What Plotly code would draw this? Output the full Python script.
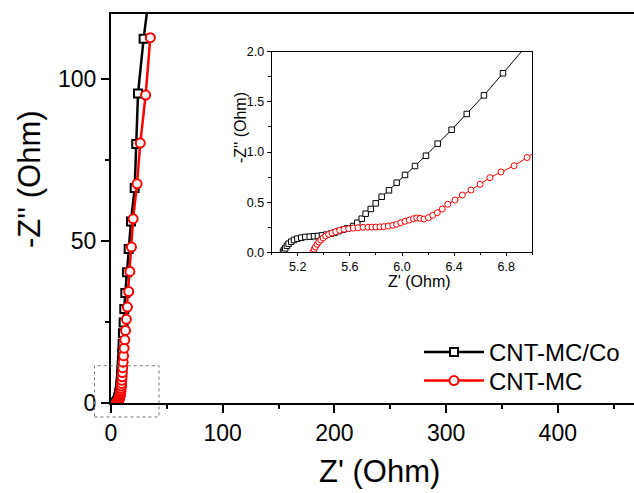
import plotly.graph_objects as go

# ---------------- data ----------------
series_names = ["CNT-MC/Co", "CNT-MC"]

co_x = [5.087, 5.094, 5.104, 5.117, 5.130, 5.150, 5.171, 5.197, 5.227, 5.258, 5.292, 5.325,
        5.355, 5.386, 5.419, 5.453, 5.483, 5.514, 5.547, 5.580, 5.626, 5.657, 5.691, 5.721,
        5.760, 5.798, 5.844, 5.900, 5.959, 6.023, 6.100, 6.184, 6.274, 6.381, 6.497, 6.629,
        6.775, 6.94, 7.12, 7.31, 7.50, 7.70, 7.90, 8.10, 8.30, 8.50, 8.70, 8.90, 9.10, 9.30,
        9.55, 9.80, 10.05, 10.35, 10.7, 11.3, 11.9, 12.8, 14.3, 15.8, 17.9, 21.2, 22.6, 24.2,
        29.2, 36.0]
co_y = [0.006, 0.023, 0.040, 0.066, 0.086, 0.106, 0.123, 0.136, 0.146, 0.153, 0.156, 0.160,
        0.163, 0.169, 0.176, 0.186, 0.196, 0.212, 0.225, 0.238, 0.262, 0.295, 0.335, 0.385,
        0.432, 0.488, 0.554, 0.618, 0.694, 0.771, 0.860, 0.963, 1.083, 1.222, 1.379, 1.565,
        1.785, 2.03, 2.31, 2.63, 3.00, 3.42, 3.90, 4.45, 5.08, 5.80, 6.65, 7.60, 8.70, 10.0,
        11.5, 13.3, 15.5, 18.2, 21.5, 24.8, 29.0, 33.9, 40.3, 47.5, 56.0, 66.3, 79.9, 95.5,
        112.4, 131.0]

mc_x = [5.317, 5.325, 5.335, 5.348, 5.361, 5.376, 5.394, 5.414, 5.437, 5.463, 5.491, 5.522,
        5.555, 5.591, 5.626, 5.662, 5.701, 5.739, 5.770, 5.800, 5.831, 5.862, 5.895, 5.929,
        5.959, 5.990, 6.023, 6.056, 6.087, 6.113, 6.138, 6.169, 6.202, 6.236, 6.271, 6.309,
        6.351, 6.407, 6.463, 6.530, 6.599, 6.675, 6.760, 6.860, 6.960, 7.07, 7.19, 7.33, 7.47,
        7.62, 7.78, 7.95, 8.12, 8.30, 8.50, 8.70, 8.90, 9.10, 9.30, 9.50, 9.70, 9.95, 10.2,
        10.5, 10.85, 11.25, 11.75, 12.35, 13.0, 13.8, 14.7, 15.8, 16.9, 18.3, 19.8, 23.3,
        26.2, 31.0, 35.2]
mc_y = [0.006, 0.030, 0.053, 0.080, 0.103, 0.123, 0.143, 0.163, 0.179, 0.192, 0.205, 0.219,
        0.229, 0.235, 0.242, 0.245, 0.249, 0.250, 0.251, 0.252, 0.254, 0.256, 0.262, 0.269,
        0.279, 0.295, 0.309, 0.322, 0.335, 0.342, 0.339, 0.332, 0.345, 0.369, 0.395, 0.432,
        0.479, 0.521, 0.571, 0.621, 0.678, 0.744, 0.801, 0.863, 0.945, 1.04, 1.15, 1.28, 1.43,
        1.60, 1.80, 2.03, 2.30, 2.62, 3.00, 3.44, 3.95, 4.55, 5.25, 6.05, 7.00, 8.10, 9.40,
        10.9, 12.6, 14.6, 16.9, 19.5, 22.4, 25.8, 29.6, 34.4, 40.6, 48.1, 56.8, 67.6,
        80.2, 95.0, 112.7]

main_x_ticks = [0, 100, 200, 300, 400]
main_y_ticks = [0, 50, 100]
inset_x_ticks = [5.2, 5.6, 6.0, 6.4, 6.8]
inset_y_ticks = [0.0, 0.5, 1.0, 1.5, 2.0]

# ---------------- figure ----------------
FONT = "Liberation Sans, Arial, sans-serif"
W, H = 634, 493
ML, MR, MT, MB = 111, 0, 14, 90
PW, PH = W - ML - MR, H - MT - MB

def px_to_paper_x(px):
    return (px - ML) / PW

def px_to_paper_y(py):
    return (H - MB - py) / PH

fig = go.Figure()

# main traces
fig.add_trace(go.Scatter(
    x=co_x, y=co_y, name=series_names[0], mode="lines+markers", legend="legend",
    line=dict(color="black", width=2.5),
    marker=dict(symbol="square", size=8, color="white", line=dict(color="black", width=2)),
    xaxis="x", yaxis="y"))
fig.add_trace(go.Scatter(
    x=mc_x, y=mc_y, name=series_names[1], mode="lines+markers", legend="legend2",
    line=dict(color="red", width=2.5),
    marker=dict(symbol="circle", size=9, color="white", line=dict(color="red", width=2)),
    xaxis="x", yaxis="y"))

# inset traces (same data, zoomed axes)
fig.add_trace(go.Scatter(
    x=co_x, y=co_y, name=series_names[0], mode="lines+markers", showlegend=False,
    line=dict(color="black", width=1),
    marker=dict(symbol="square", size=5.5, color="white", line=dict(color="black", width=1)),
    xaxis="x2", yaxis="y2"))
fig.add_trace(go.Scatter(
    x=mc_x, y=mc_y, name=series_names[1], mode="lines+markers", showlegend=False,
    line=dict(color="red", width=1),
    marker=dict(symbol="circle", size=6, color="white", line=dict(color="red", width=1)),
    xaxis="x2", yaxis="y2"))

main_axis_common = dict(
    showgrid=False, zeroline=False, showline=True, linecolor="black", linewidth=2,
    ticks="outside", ticklen=8, tickwidth=1.5, tickcolor="black",
    tickfont=dict(family=FONT, size=23, color="black"),
)
inset_axis_common = dict(
    showgrid=False, zeroline=False, showline=True, linecolor="black", linewidth=1,
    mirror=True, ticks="outside", tickwidth=1, tickcolor="black",
    tickfont=dict(family=FONT, size=12.5, color="black"), tickformat=".1f",
)

ix0, ix1 = px_to_paper_x(271.7), px_to_paper_x(532.3)
iy0, iy1 = px_to_paper_y(252.3), px_to_paper_y(51.7)

legend_common = dict(xanchor="left", yanchor="top",
                     font=dict(family=FONT, size=24, color="black"),
                     bgcolor="rgba(0,0,0,0)", itemwidth=60)

fig.update_layout(
    width=W, height=H,
    margin=dict(l=ML, r=MR, t=MT, b=MB),
    paper_bgcolor="white", plot_bgcolor="white",
    font=dict(family=FONT, color="black"),
    xaxis=dict(range=[0, PW / 1.117], tickvals=main_x_ticks, mirror=True,
               minor=dict(dtick=50, ticks="outside", ticklen=4, tickwidth=1.5, tickcolor="black"),
               **main_axis_common),
    yaxis=dict(range=[0, 120], tickvals=main_y_ticks,
               minor=dict(dtick=25, ticks="outside", ticklen=4, tickwidth=1.5, tickcolor="black"),
               **main_axis_common),
    xaxis2=dict(domain=[ix0, ix1], anchor="y2", range=[5.0, 7.0], tickvals=inset_x_ticks, ticklen=3,
                minor=dict(dtick=0.2, tick0=5.0, ticks="outside", ticklen=2, tickwidth=1, tickcolor="black"),
                **inset_axis_common),
    yaxis2=dict(domain=[iy0, iy1], anchor="x2", range=[0, 2.0], tickvals=inset_y_ticks, ticklen=4,
                minor=dict(dtick=0.25, ticks="outside", ticklen=2.5, tickwidth=1, tickcolor="black"),
                **inset_axis_common),
    legend=dict(x=px_to_paper_x(419), y=px_to_paper_y(330), **legend_common),
    legend2=dict(x=px_to_paper_x(419), y=px_to_paper_y(358.5), **legend_common),
    showlegend=True,
)

# axis titles as annotations
def title(text, px, py, size, angle=0):
    fig.add_annotation(text=text, x=px_to_paper_x(px), y=px_to_paper_y(py),
                       xref="paper", yref="paper", showarrow=False, textangle=angle,
                       xanchor="center", yanchor="middle",
                       font=dict(family=FONT, size=size, color="black"))

title("Z' (Ohm)", 379, 471, 31)
title("-Z'' (Ohm)", 29, 179, 31, -90)
title("Z' (Ohm)", 419, 281, 16)
title("-Z'' (Ohm)", 240, 128, 16, -90)

# dotted zoom-region box
fig.add_shape(type="rect", xref="paper", yref="paper",
              x0=px_to_paper_x(94.5), x1=px_to_paper_x(159),
              y0=px_to_paper_y(417), y1=px_to_paper_y(365.7),
              line=dict(color="#777777", width=1, dash="dot"), layer="above")

fig.write_html("out.html", config={"displayModeBar": False},
               post_script="document.body.style.margin='0';")
